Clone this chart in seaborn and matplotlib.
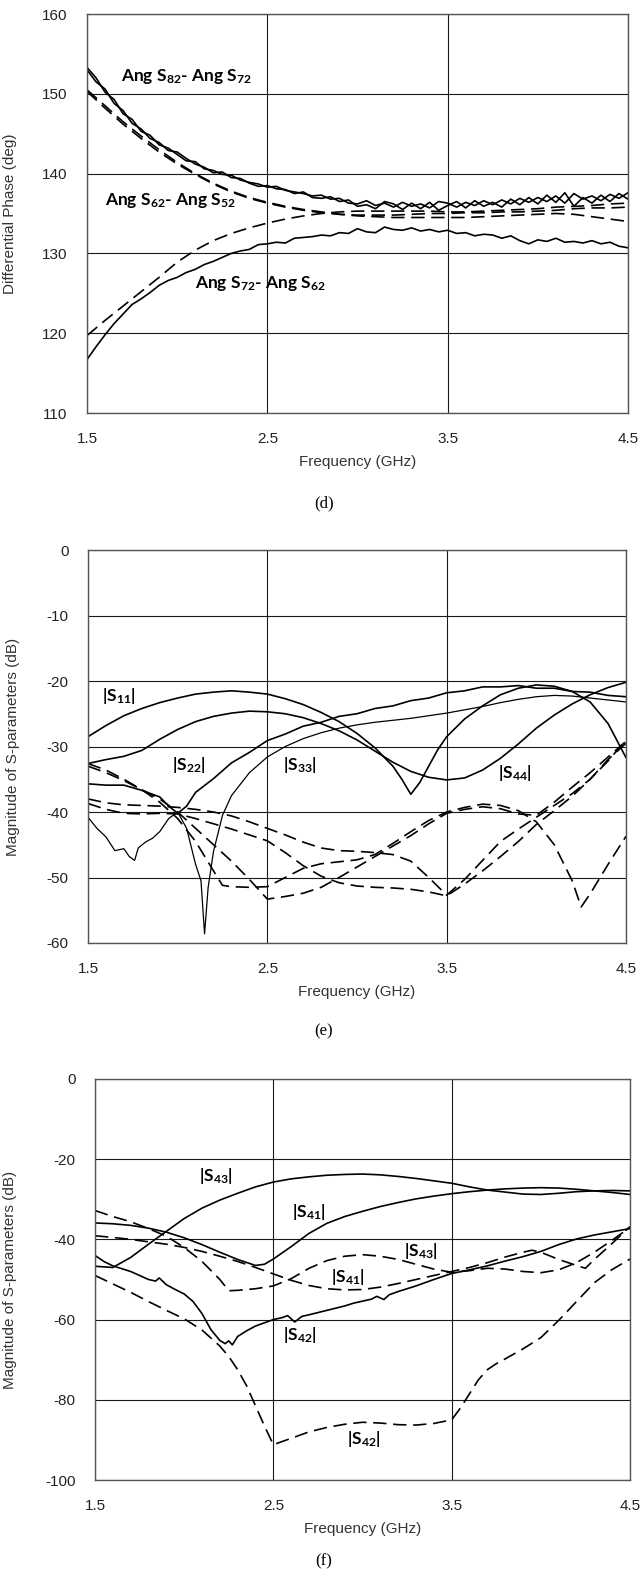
import numpy as np
import pandas as pd
import matplotlib
matplotlib.use("Agg")
import matplotlib.pyplot as plt
import seaborn as sns

# ---------------- data ----------------
# Panel (d): differential phase (deg)
f_d_meas = [1.50, 1.55, 1.60, 1.65, 1.70, 1.75, 1.80, 1.85, 1.90, 1.95, 2.00, 2.05, 2.10, 2.15, 2.20,
            2.25, 2.30, 2.35, 2.40, 2.45, 2.50, 2.55, 2.60, 2.65, 2.70, 2.75, 2.80, 2.85, 2.90, 2.95,
            3.00, 3.05, 3.10, 3.15, 3.20, 3.25, 3.30, 3.35, 3.40, 3.45, 3.50, 3.55, 3.60, 3.65, 3.70,
            3.75, 3.80, 3.85, 3.90, 3.95, 4.00, 4.05, 4.10, 4.15, 4.20, 4.25, 4.30, 4.35, 4.40, 4.45, 4.50]
ph82_72_meas = [153.3, 152.0, 150.2, 149.3, 147.5, 146.8, 145.3, 144.8, 143.6, 143.2, 142.4, 141.6, 141.5,
                140.6, 140.4, 139.9, 139.8, 139.2, 138.9, 138.7, 138.3, 138.4, 137.9, 137.7, 137.5, 137.2,
                137.3, 136.8, 136.9, 136.3, 136.2, 136.6, 136.0, 136.3, 135.8, 136.4, 135.9, 136.2, 135.7,
                136.5, 136.3, 135.8, 136.4, 136.0, 136.6, 136.1, 136.7, 136.2, 136.9, 136.4, 137.0, 136.5,
                137.2, 136.3, 137.5, 136.8, 137.2, 136.6, 137.4, 136.9, 137.6]
ph62_52_meas = [153.0, 151.5, 150.6, 148.8, 147.9, 146.3, 145.6, 144.4, 143.9, 142.9, 142.7, 141.9, 141.2,
                140.8, 140.1, 140.2, 139.5, 139.4, 138.8, 138.4, 138.5, 138.1, 138.0, 137.5, 137.7, 137.0,
                136.9, 137.1, 136.5, 136.7, 135.9, 136.1, 135.6, 136.5, 136.2, 135.5, 136.3, 135.6, 136.4,
                135.4, 136.0, 136.5, 135.7, 136.6, 135.9, 136.4, 135.8, 136.8, 136.1, 137.0, 136.2, 137.3,
                136.4, 137.6, 135.9, 137.0, 136.3, 137.3, 136.5, 137.5, 136.8]
ph72_62_meas = [116.7, 118.3, 119.8, 121.2, 122.4, 123.6, 124.3, 125.1, 126.0, 126.6, 127.0, 127.6, 128.0,
                128.6, 129.0, 129.5, 130.0, 130.3, 130.5, 131.1, 131.2, 131.4, 131.3, 131.9, 132.0, 132.1,
                132.3, 132.2, 132.6, 132.5, 133.1, 132.7, 132.6, 133.3, 133.0, 132.9, 133.2, 132.8, 133.0,
                132.7, 132.9, 132.5, 132.6, 132.2, 132.4, 132.3, 131.9, 132.2, 131.6, 131.2, 131.7, 131.5,
                131.9, 131.4, 131.5, 131.3, 131.6, 131.2, 131.4, 130.9, 130.7]

f_sim = [1.5, 1.6, 1.7, 1.8, 1.9, 2.0, 2.1, 2.2, 2.3, 2.4, 2.5, 2.6, 2.7, 2.8, 2.9, 3.0,
         3.1, 3.2, 3.3, 3.4, 3.5, 3.6, 3.7, 3.8, 3.9, 4.0, 4.1, 4.2, 4.3, 4.4, 4.5]
ph82_72_sim = [150.5, 148.5, 146.5, 144.7, 143.0, 141.4, 140.0, 138.8, 137.8, 137.0, 136.4, 135.9, 135.5,
               135.2, 134.9, 134.7, 134.6, 134.5, 134.5, 134.5, 134.5, 134.5, 134.6, 134.7, 134.8, 134.9,
               135.0, 134.9, 134.6, 134.3, 134.0]
ph62_52_sim = [150.3, 148.2, 146.2, 144.4, 142.7, 141.2, 139.9, 138.7, 137.7, 136.9, 136.3, 135.8, 135.4,
               135.1, 134.9, 134.8, 134.8, 134.8, 134.9, 135.0, 135.0, 135.1, 135.1, 135.2, 135.2, 135.3,
               135.4, 135.6, 135.7, 135.7, 135.8]
ph72_62_sim = [119.7, 121.6, 123.4, 125.2, 127.0, 128.9, 130.4, 131.6, 132.5, 133.2, 133.8, 134.3, 134.7,
               135.0, 135.2, 135.3, 135.3, 135.3, 135.3, 135.3, 135.2, 135.2, 135.3, 135.4, 135.5, 135.6,
               135.8, 135.9, 136.0, 136.2, 136.3]

# Panel (e): return losses (dB)
f_e11 = [1.5, 1.6, 1.7, 1.8, 1.9, 2.0, 2.1, 2.2, 2.3, 2.4, 2.5, 2.6, 2.7, 2.8, 2.9, 3.0, 3.1, 3.2,
         3.25, 3.3, 3.35, 3.4, 3.45, 3.5, 3.6, 3.7, 3.8, 3.9, 4.0, 4.1, 4.2, 4.3, 4.4, 4.5]
s11_meas = [-28.5, -26.8, -25.3, -24.2, -23.3, -22.6, -22.0, -21.7, -21.5, -21.7, -22.0, -22.7, -23.6,
            -24.8, -26.2, -28.0, -30.2, -33.0, -35.0, -37.3, -35.5, -33.0, -30.5, -28.5, -25.8, -23.8,
            -22.1, -21.1, -20.6, -20.8, -21.6, -23.2, -26.5, -31.7]
s44_meas = [-32.6, -32.0, -31.5, -30.6, -28.9, -27.4, -26.2, -25.4, -24.9, -24.6, -24.7, -25.0, -25.6,
            -26.5, -27.6, -29.0, -30.7, -32.4, -33.8, -34.7, -35.1, -34.8, -33.6, -31.8, -29.6, -27.2,
            -25.2, -23.5, -22.1, -21.0, -20.2]
f_e22 = [1.5, 1.6, 1.7, 1.8, 1.9, 1.95, 2.0, 2.05, 2.1, 2.2, 2.3, 2.4, 2.5, 2.6, 2.7, 2.8, 2.9, 3.0,
         3.1, 3.2, 3.3, 3.4, 3.5, 3.6, 3.7, 3.8, 3.9, 4.0, 4.1, 4.2, 4.3, 4.4, 4.5]
s22_meas = [-35.7, -35.9, -35.9, -36.7, -37.7, -39.1, -40.2, -39.1, -37.0, -34.9, -32.5, -30.9, -29.1,
            -28.1, -26.9, -26.3, -25.4, -25.0, -24.2, -23.8, -23.0, -22.6, -21.8, -21.5, -20.9, -20.9,
            -20.7, -21.1, -21.1, -21.6, -21.7, -22.2, -22.4]
f_e33 = [1.5, 1.55, 1.6, 1.65, 1.7, 1.73, 1.76, 1.78, 1.82, 1.86, 1.9, 1.95, 2.0, 2.05, 2.1, 2.13,
         2.15, 2.17, 2.2, 2.25, 2.3, 2.4, 2.5, 2.6, 2.7, 2.8, 2.9, 3.0, 3.1, 3.2, 3.3, 3.4, 3.5, 3.6,
         3.7, 3.8, 3.9, 4.0, 4.1, 4.2, 4.3, 4.4, 4.5]
s33_meas = [-40.8, -42.5, -43.8, -45.9, -45.6, -46.8, -47.4, -45.5, -44.6, -44.0, -43.0, -41.0, -40.0,
            -42.5, -48.0, -50.5, -58.6, -51.5, -46.0, -40.5, -37.5, -34.0, -31.6, -30.0, -28.8, -27.9,
            -27.2, -26.7, -26.3, -26.0, -25.7, -25.3, -24.9, -24.4, -23.9, -23.3, -22.8, -22.4, -22.2,
            -22.3, -22.6, -22.9, -23.2]
f_e_s1 = [1.5, 1.6, 1.7, 1.8, 1.9, 2.0, 2.1, 2.2, 2.25, 2.3, 2.4, 2.5, 2.6, 2.7, 2.8, 2.9, 3.0, 3.1,
          3.2, 3.3, 3.4, 3.5, 3.6, 3.7, 3.8, 3.9, 4.0, 4.1, 4.2, 4.25, 4.3, 4.4, 4.5]
sim_e1 = [-32.6, -33.6, -35.0, -36.6, -38.5, -41.0, -44.5, -49.0, -51.2, -51.4, -51.5, -51.4, -50.0,
          -48.6, -47.9, -47.6, -47.3, -46.5, -44.8, -43.0, -41.3, -40.0, -39.3, -38.8, -39.0, -39.8,
          -41.5, -45.0, -50.5, -54.5, -52.5, -48.0, -43.7]
sim_e2 = [-33.0, -34.0, -35.2, -36.6, -38.0, -40.0, -42.5, -45.0, -47.5, -50.3, -53.3, -52.9, -52.4,
          -51.5, -50.0, -48.4, -46.8, -45.2, -43.6, -41.8, -40.2, -39.6, -39.2, -39.5, -40.3, -40.5,
          -38.5, -36.2, -34.0, -31.6, -29.2]
sim_e3 = [-38.0, -38.6, -38.9, -39.0, -39.1, -39.3, -39.6, -40.0, -40.6, -41.5, -42.5, -43.5, -44.6,
          -45.5, -45.9, -46.0, -46.2, -46.5, -47.5, -50.0, -52.7, -50.3, -47.4, -44.5, -42.6, -40.8,
          -39.0, -37.2, -35.0, -32.2, -29.0]
sim_e4 = [-38.7, -39.6, -40.2, -40.3, -40.2, -40.3, -41.0, -41.8, -42.6, -43.5, -44.4, -46.2, -48.2,
          -49.8, -50.8, -51.3, -51.5, -51.6, -51.8, -52.2, -52.8, -51.0, -49.0, -46.8, -44.5, -41.9,
          -39.8, -37.6, -35.0, -32.0, -29.5]

# Panel (f): isolation / coupling (dB)
s43_meas = [-46.7, -47.0, -44.5, -41.2, -38.0, -34.8, -32.2, -30.2, -28.5, -26.9, -25.7, -24.9, -24.4,
            -24.0, -23.8, -23.7, -23.9, -24.3, -24.8, -25.4, -26.0, -26.9, -27.7, -28.2, -28.7, -28.8,
            -28.5, -28.1, -27.9, -27.8, -27.9]
f_f41 = [1.5, 1.6, 1.7, 1.8, 1.9, 2.0, 2.1, 2.2, 2.3, 2.4, 2.45, 2.5, 2.6, 2.7, 2.8, 2.9, 3.0, 3.1,
         3.2, 3.3, 3.4, 3.5, 3.6, 3.7, 3.8, 3.9, 4.0, 4.1, 4.2, 4.3, 4.4, 4.5]
s41_meas = [-35.9, -36.1, -36.5, -37.2, -38.2, -39.6, -41.3, -43.2, -45.0, -46.5, -46.2, -44.9, -41.8,
            -38.5, -36.0, -34.3, -33.0, -31.8, -30.8, -29.9, -29.2, -28.6, -28.1, -27.7, -27.4, -27.2,
            -27.1, -27.2, -27.5, -27.9, -28.3, -28.8]
f_f42 = [1.5, 1.55, 1.6, 1.65, 1.7, 1.75, 1.8, 1.84, 1.86, 1.9, 1.95, 2.0, 2.05, 2.1, 2.15, 2.2, 2.23,
         2.25, 2.27, 2.3, 2.35, 2.4, 2.45, 2.5, 2.55, 2.58, 2.62, 2.66, 2.7, 2.8, 2.9, 2.95, 3.0, 3.05,
         3.08, 3.12, 3.15, 3.2, 3.3, 3.4, 3.5, 3.6, 3.7, 3.8, 3.9, 4.0, 4.1, 4.2, 4.3, 4.4, 4.5]
s42_meas = [-44.0, -45.5, -46.6, -47.3, -48.0, -49.0, -50.0, -50.4, -49.6, -51.3, -52.5, -53.6, -55.5,
            -58.5, -62.5, -65.2, -66.0, -65.3, -66.3, -64.2, -62.8, -61.6, -60.8, -60.0, -59.5, -59.0,
            -60.6, -59.2, -58.8, -57.7, -56.6, -55.9, -55.4, -54.9, -54.2, -55.0, -53.8, -53.0, -51.6,
            -50.0, -48.5, -47.6, -46.6, -45.4, -44.3, -43.0, -41.3, -39.9, -38.9, -38.1, -37.3]
f_f_sa = [1.5, 1.6, 1.7, 1.8, 1.9, 2.0, 2.1, 2.2, 2.25, 2.3, 2.4, 2.5, 2.6, 2.7, 2.8, 2.9, 3.0, 3.1,
          3.2, 3.3, 3.4, 3.5, 3.6, 3.7, 3.8, 3.9, 4.0, 4.1, 4.2, 4.3, 4.4, 4.5]
s41_sim = [-32.8, -34.3, -35.6, -37.3, -39.2, -42.0, -45.5, -50.0, -52.8, -52.7, -52.3, -51.6, -49.8,
           -47.2, -45.3, -44.2, -43.8, -44.2, -45.0, -46.2, -47.4, -48.2, -47.8, -47.2, -47.4, -48.0,
           -48.3, -47.6, -45.8, -43.2, -40.2, -37.0]
f_f_sb = [1.5, 1.6, 1.7, 1.8, 1.9, 2.0, 2.1, 2.2, 2.3, 2.4, 2.5, 2.6, 2.7, 2.8, 2.9, 3.0, 3.1, 3.2,
          3.3, 3.4, 3.5, 3.6, 3.7, 3.8, 3.9, 3.95, 4.0, 4.1, 4.2, 4.25, 4.3, 4.4, 4.5]
s43_sim = [-39.1, -39.5, -40.0, -40.6, -41.2, -42.0, -43.0, -44.2, -45.5, -47.0, -48.6, -50.2, -51.5,
           -52.3, -52.6, -52.5, -51.9, -51.0, -50.0, -49.0, -48.0, -47.0, -45.8, -44.4, -43.2, -42.7,
           -43.2, -45.0, -46.5, -47.2, -45.0, -41.0, -36.8]
f_f_sc = [1.5, 1.6, 1.7, 1.8, 1.9, 2.0, 2.1, 2.2, 2.25, 2.3, 2.35, 2.4, 2.45, 2.5, 2.6, 2.7, 2.8, 2.9,
          3.0, 3.1, 3.2, 3.3, 3.4, 3.5, 3.55, 3.6, 3.65, 3.7, 3.75, 3.8, 3.9, 4.0, 4.1, 4.2, 4.3, 4.4, 4.5]
s42_sim = [-49.0, -51.1, -53.2, -55.5, -57.7, -59.8, -62.6, -66.6, -69.2, -72.5, -76.5, -81.5, -86.5,
           -91.2, -89.6, -88.0, -86.9, -86.1, -85.6, -85.8, -86.2, -86.3, -85.9, -85.0, -82.0, -78.5,
           -75.0, -72.5, -71.0, -69.8, -67.3, -64.5, -60.2, -55.5, -50.8, -47.5, -44.9]

x_ticks = [1.5, 2.5, 3.5, 4.5]
x_tick_labels = ["1.5", "2.5", "3.5", "4.5"]
y_ticks_d = [110, 120, 130, 140, 150, 160]
y_ticks_e = [-60, -50, -40, -30, -20, -10, 0]
y_ticks_f = [-100, -80, -60, -40, -20, 0]

# ---------------- style ----------------
sns.set_style("white")
plt.rcParams["font.family"] = ["Liberation Sans", "DejaVu Sans"]
plt.rcParams["axes.unicode_minus"] = False
plt.rcParams["mathtext.fontset"] = "custom"
plt.rcParams["mathtext.rm"] = "Lato:bold"
plt.rcParams["mathtext.it"] = "Lato:bold"
plt.rcParams["mathtext.bf"] = "Lato:bold"

W, H = 641, 1573
fig = plt.figure(figsize=(W / 100, H / 100), dpi=100)

def ax_rect(l, r, t, b):
    return [l / W, 1 - b / H, (r - l) / W, (b - t) / H]

ax_d = fig.add_axes(ax_rect(87, 628, 14, 413))
ax_e = fig.add_axes(ax_rect(88, 626, 550, 943))
ax_f = fig.add_axes(ax_rect(95, 630, 1079, 1480))

SOLID = dict(color="black", linewidth=1.2, linestyle="-")
THIN = dict(color="black", linewidth=0.9, linestyle="-")
DASH = dict(color="black", linewidth=1.2, linestyle=(0, (8, 4)))

def draw(ax, x, y, st):
    sns.lineplot(x=x, y=y, ax=ax, estimator=None, sort=False, **st)

# panel d
draw(ax_d, f_d_meas, ph82_72_meas, SOLID)
draw(ax_d, f_d_meas, ph62_52_meas, SOLID)
draw(ax_d, f_d_meas, ph72_62_meas, SOLID)
draw(ax_d, f_sim, ph82_72_sim, DASH)
draw(ax_d, f_sim, ph62_52_sim, DASH)
draw(ax_d, f_sim, ph72_62_sim, DASH)

# panel e
draw(ax_e, f_e11, s11_meas, SOLID)
draw(ax_e, f_sim, s44_meas, SOLID)
draw(ax_e, f_e22, s22_meas, SOLID)
draw(ax_e, f_e33, s33_meas, THIN)
draw(ax_e, f_e_s1, sim_e1, DASH)
draw(ax_e, f_sim, sim_e2, DASH)
draw(ax_e, f_sim, sim_e3, DASH)
draw(ax_e, f_sim, sim_e4, DASH)

# panel f
draw(ax_f, f_sim, s43_meas, SOLID)
draw(ax_f, f_f41, s41_meas, SOLID)
draw(ax_f, f_f42, s42_meas, SOLID)
draw(ax_f, f_f_sa, s41_sim, DASH)
draw(ax_f, f_f_sb, s43_sim, DASH)
draw(ax_f, f_f_sc, s42_sim, DASH)

def style_axis(ax, yticks, ylim, ylabel, ylab_x):
    ax.set_xlim(1.5, 4.5)
    ax.set_ylim(*ylim)
    ax.set_xticks(x_ticks)
    ax.set_xticklabels(x_tick_labels)
    ax.set_yticks(yticks)
    ax.set_yticklabels([str(v) for v in yticks])
    ax.grid(True, color="#1a1a1a", linewidth=0.8)
    ax.set_axisbelow(True)
    for s in ax.spines.values():
        s.set_color("#555555")
        s.set_linewidth(1.0)
        s.set_visible(True)
    ax.tick_params(axis="both", length=0, labelsize=11, colors="#222222")
    ax.tick_params(axis="y", pad=14)
    ax.tick_params(axis="x", pad=14)
    ax.set_xlabel("Frequency (GHz)", fontsize=11, color="#333333", labelpad=6)
    ax.set_ylabel(ylabel, fontsize=11, color="#333333")
    ax.yaxis.set_label_coords(ylab_x, 0.5)

style_axis(ax_d, y_ticks_d, (110, 160), "Differential Phase (deg)", (17 - 87) / 541)
style_axis(ax_e, y_ticks_e, (-60, 0), "Magnitude of S-parameters (dB)", (20 - 88) / 538)
style_axis(ax_f, y_ticks_f, (-100, 0), "Magnitude of S-parameters (dB)", (17 - 95) / 535)

LBL = dict(fontsize=12.5, color="black", ha="center", va="center", family="Lato", weight="bold")
ax_d.text(2.05, 152.2, r"Ang S$_{82}$- Ang S$_{72}$", **LBL)
ax_d.text(1.96, 136.6, r"Ang S$_{62}$- Ang S$_{52}$", **LBL)
ax_d.text(2.46, 126.2, r"Ang S$_{72}$- Ang S$_{62}$", **LBL)

ax_e.text(1.67, -22.3, r"|S$_{11}$|", **LBL)
ax_e.text(2.06, -32.9, r"|S$_{22}$|", **LBL)
ax_e.text(2.68, -32.9, r"|S$_{33}$|", **LBL)
ax_e.text(3.88, -34.1, r"|S$_{44}$|", **LBL)

ax_f.text(2.18, -24.3, r"|S$_{43}$|", **LBL)
ax_f.text(2.70, -33.2, r"|S$_{41}$|", **LBL)
ax_f.text(3.33, -42.9, r"|S$_{43}$|", **LBL)
ax_f.text(2.92, -49.4, r"|S$_{41}$|", **LBL)
ax_f.text(2.65, -63.8, r"|S$_{42}$|", **LBL)
ax_f.text(3.01, -89.8, r"|S$_{42}$|", **LBL)

CAP = dict(fontsize=12, family="Liberation Serif", ha="center", va="center", color="black")
fig.text(324 / W, 1 - 503 / H, "(d)", **CAP)
fig.text(324 / W, 1 - 1031 / H, "(e)", **CAP)
fig.text(324 / W, 1 - 1561 / H, "(f)", **CAP)

fig.savefig("out.png", dpi=100)
